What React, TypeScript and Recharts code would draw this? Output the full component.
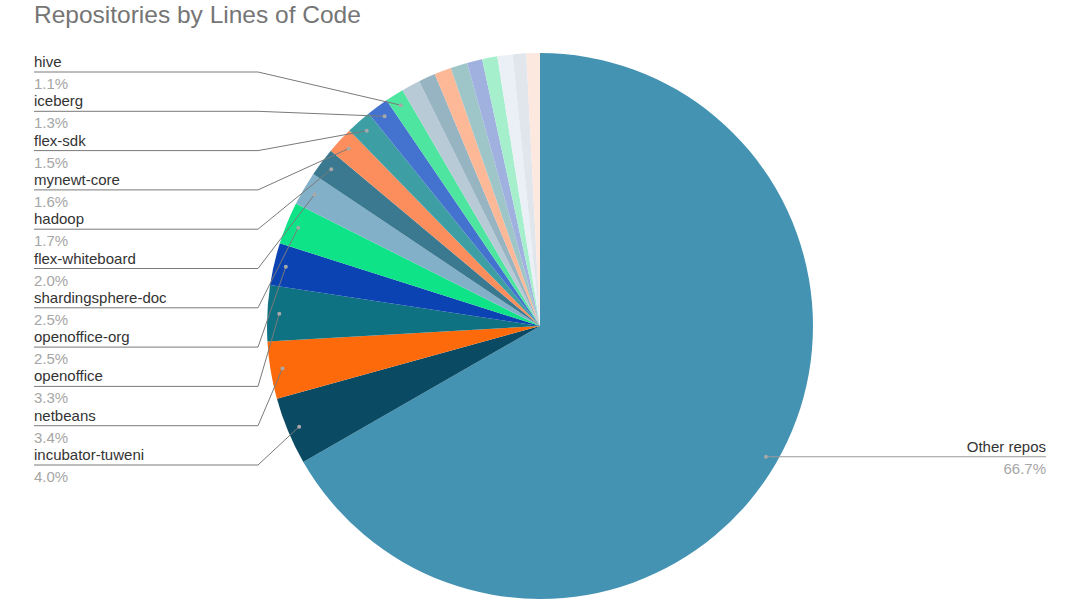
import React from 'react';
import { PieChart, Pie, Cell } from 'recharts';

// repo names and share of lines of code (%), clockwise from 12 o'clock
const NAMES = [
  'Other repos',
  'incubator-tuweni',
  'netbeans',
  'openoffice',
  'openoffice-org',
  'shardingsphere-doc',
  'flex-whiteboard',
  'hadoop',
  'mynewt-core',
  'flex-sdk',
  'iceberg',
  'hive',
  'small-1',
  'small-2',
  'small-3',
  'small-4',
  'small-5',
  'small-6',
  'small-7',
  'small-8',
  'small-9',
];
const VALUES = [66.7, 4.0, 3.4, 3.3, 2.5, 2.5, 2.0, 1.7, 1.6, 1.5, 1.3, 1.1, 1.1, 1.0, 1.0, 1.0, 0.9, 0.9, 0.9, 0.8, 0.8];
const LABELED = 12; // first 12 slices carry a label

const COLORS = [
  '#4593b2', '#0b4a63', '#fd6a0c', '#0f7282', '#0c43b3', '#0ee387',
  '#82b0c8', '#3a7990', '#fb8e5c', '#3d9fa3', '#4472cf', '#4de59f',
  '#b8cad6', '#96b4c1', '#fdb898', '#9ec6c8', '#a0b1e0', '#a6efcd',
  '#eaf0f5', '#e0e6ec', '#fde8e0',
];

const data = NAMES.map((name, i) => ({ name, value: VALUES[i] }));

const RADIAN = Math.PI / 180;
const FONT = 'Arial, "Liberation Sans", sans-serif';

const renderLabel = (props: any) => {
  const { cx, cy, midAngle, outerRadius, index, name, value } = props;
  if (index >= LABELED) return null;
  const r = outerRadius - 12;
  const dx = cx + r * Math.cos(-midAngle * RADIAN);
  const dy = cy + r * Math.sin(-midAngle * RADIAN);
  const pct = `${Number(value).toFixed(1)}%`;

  if (index === 0) {
    const endX = 1046;
    return (
      <g>
        <line x1={dx} y1={dy} x2={endX} y2={dy} stroke="#9a9a9a" strokeWidth={1.2} />
        <circle cx={dx} cy={dy} r={2} fill="#a8a8a8" />
        <text x={endX} y={dy - 5} textAnchor="end" fontSize={15} fill="#333" fontFamily={FONT}>
          {name}
        </text>
        <text x={endX} y={dy + 17} textAnchor="end" fontSize={15} fill="#a6a6a6" fontFamily={FONT}>
          {pct}
        </text>
      </g>
    );
  }

  const lineY = 465 - (index - 1) * 39.3;
  const x0 = 34;
  const bend = 258;
  return (
    <g>
      <polyline
        points={`${x0},${lineY} ${bend},${lineY} ${dx},${dy}`}
        fill="none"
        stroke="#7a7a7a"
        strokeWidth={1}
      />
      <circle cx={dx} cy={dy} r={2} fill="#a8a8a8" />
      <text x={x0} y={lineY - 5} fontSize={15} fill="#333" fontFamily={FONT}>
        {name}
      </text>
      <text x={x0} y={lineY + 17} fontSize={15} fill="#a6a6a6" fontFamily={FONT}>
        {pct}
      </text>
    </g>
  );
};

export default function App() {
  return (
    <div style={{ position: 'absolute', left: 0, top: 0, width: 1080, height: 599, background: '#fff', overflow: 'hidden' }}>
      <div
        style={{
          position: 'absolute',
          left: 34,
          top: 1,
          fontFamily: FONT,
          fontSize: 24.5,
          color: '#757575',
          whiteSpace: 'nowrap',
        }}
      >
        Repositories by Lines of Code
      </div>
      <PieChart width={1080} height={599} margin={{ top: 0, right: 0, bottom: 0, left: 0 }}>
        <Pie
          data={data}
          dataKey="value"
          nameKey="name"
          cx={540}
          cy={326}
          outerRadius={273}
          startAngle={90}
          endAngle={-270}
          stroke="none"
          label={renderLabel}
          labelLine={false}
          isAnimationActive={false}
        >
          {data.map((entry, index) => (
            <Cell key={`cell-${index}`} fill={COLORS[index % COLORS.length]} />
          ))}
        </Pie>
      </PieChart>
    </div>
  );
}
